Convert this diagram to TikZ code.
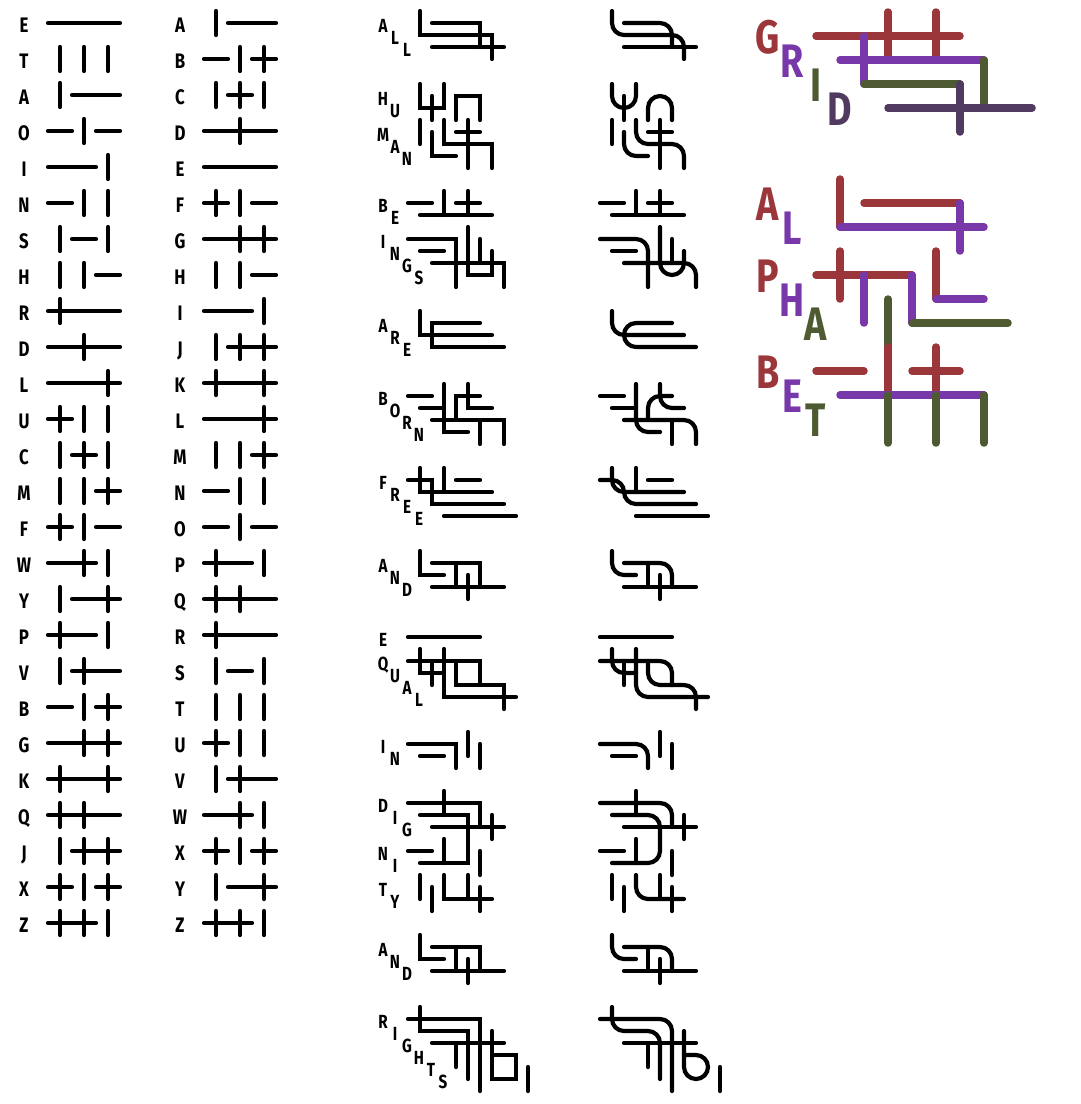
\documentclass[tikz,border=0pt]{standalone}
\usepackage{fontspec}
\newfontfamily\rotfont{Fira Sans}[FakeStretch=0.8]

\definecolor{vermelho}{RGB}{155,55,58}
\definecolor{roxo}{RGB}{120,56,170}
\definecolor{oliva}{RGB}{78,90,50}
\definecolor{ameixa}{RGB}{80,58,96}

\tikzset{
  traco/.style={line width=4.2pt, line cap=round},
  rotulo/.style={anchor=base, inner sep=0pt, font=\rotfont\bfseries\fontsize{21}{21}\selectfont},
  rotpal/.style={anchor=base, inner sep=0pt, font=\rotfont\bfseries\fontsize{19}{19}\selectfont},
  rotgrande/.style={anchor=base, inner sep=0pt, font=\rotfont\bfseries\fontsize{47}{47}\selectfont},
}

% Codigo de cada letra: h = traco, v = barra, x = cruz
\def\codA{vhh}\def\codB{hvx}\def\codC{vxv}\def\codD{hxh}\def\codE{hhh}
\def\codF{xvh}\def\codG{hxx}\def\codH{vvh}\def\codI{hhv}\def\codJ{vxx}
\def\codK{xhx}\def\codL{hhx}\def\codM{vvx}\def\codN{hvv}\def\codO{hvh}
\def\codP{xhv}\def\codQ{xxh}\def\codR{xhh}\def\codS{vhv}\def\codT{vvv}
\def\codU{xvv}\def\codV{vxh}\def\codW{hxv}\def\codX{xvx}\def\codY{vhx}
\def\codZ{xxv}

\newcommand\celula[4]{%
  \if#4v\draw[traco,corletra] ({#1+2*#3+1},{#2-1}) -- ++(0,2);\fi
  \if#4h\draw[traco,corletra] ({#1+2*#3},{#2}) -- ++(2,0);\fi
  \if#4x\draw[traco,corletra] ({#1+2*#3+1},{#2-1}) -- ++(0,2);
    \draw[traco,corletra] ({#1+2*#3},{#2}) -- ++(2,0);\fi}
\newcommand\glifoaux[5]{\celula{#4}{#5}{0}{#1}\celula{#4}{#5}{1}{#2}\celula{#4}{#5}{2}{#3}}
\newcommand\glifo[4][]{%
  \tikzset{corletra/.style={#1}}%
  \edef\tmpcode{\csname cod#4\endcsname}%
  \expandafter\glifoaux\tmpcode{#2}{#3}}

% Palavras (unidade = meia celula)
\newcommand\palALL{%
  \draw[traco] (1,-1) -- (1,1) -- (7,1) -- (7,3);
  \draw[traco] (2,0) -- (6,0) -- (6,2);
  \draw[traco] (2,2) -- (8,2);}
\newcommand\palHUMAN{%
  \draw[traco] (1,-1) -- (1,1) -- (3,1) -- (3,-1);
  \draw[traco] (2,0) -- (2,2);
  \draw[traco] (4,2) -- (4,0) -- (6,0) -- (6,2);
  \draw[traco] (1,2) -- (1,4);
  \draw[traco] (3,2) -- (3,4) -- (7,4) -- (7,6);
  \draw[traco] (2,3) -- (2,5) -- (4,5);
  \draw[traco] (4,3) -- (6,3);
  \draw[traco] (5,2) -- (5,6);}
\newcommand\palBEINGS{%
  \draw[traco] (0,0) -- (2,0);
  \draw[traco] (3,-1) -- (3,1);
  \draw[traco] (4,0) -- (6,0);
  \draw[traco] (5,-1) -- (5,1);
  \draw[traco] (1,1) -- (7,1);
  \draw[traco] (0,3) -- (4,3) -- (4,7);
  \draw[traco] (5,2) -- (5,6) -- (7,6) -- (7,4);
  \draw[traco] (1,4) -- (3,4);
  \draw[traco] (6,3) -- (6,5);
  \draw[traco] (2,5) -- (8,5) -- (8,7);}
\newcommand\palARE{%
  \draw[traco] (1,-1) -- (1,1) -- (7,1);
  \draw[traco] (6,0) -- (2,0) -- (2,2) -- (8,2);}
\newcommand\palBORN{%
  \draw[traco] (0,0) -- (2,0);
  \draw[traco] (3,-1) -- (3,3) -- (5,3);
  \draw[traco] (6,0) -- (4,0) -- (4,2);
  \draw[traco] (5,-1) -- (5,1) -- (7,1);
  \draw[traco] (1,1) -- (3,1);
  \draw[traco] (2,2) -- (8,2) -- (8,4);
  \draw[traco] (6,2) -- (6,4);}
\newcommand\palFREE{%
  \draw[traco] (1,-1) -- (1,1) -- (7,1);
  \draw[traco] (0,0) -- (2,0) -- (2,2) -- (8,2);
  \draw[traco] (3,-1) -- (3,1);
  \draw[traco] (4,0) -- (6,0);
  \draw[traco] (3,3) -- (9,3);}
\newcommand\palAND{%
  \draw[traco] (1,-1) -- (1,1) -- (3,1);
  \draw[traco] (2,0) -- (6,0) -- (6,2);
  \draw[traco] (4,0) -- (4,2);
  \draw[traco] (5,1) -- (5,3);
  \draw[traco] (2,2) -- (8,2);}
\newcommand\palEQUAL{%
  \draw[traco] (0,0) -- (6,0);
  \draw[traco] (0,2) -- (6,2) -- (6,4);
  \draw[traco] (1,1) -- (1,3) -- (3,3);
  \draw[traco] (3,1) -- (3,5) -- (9,5);
  \draw[traco] (2,2) -- (2,4);
  \draw[traco] (4,2) -- (4,4) -- (8,4) -- (8,6);}
\newcommand\palIN{%
  \draw[traco] (0,0) -- (4,0) -- (4,2);
  \draw[traco] (5,-1) -- (5,1);
  \draw[traco] (1,1) -- (3,1);
  \draw[traco] (6,0) -- (6,2);}
\newcommand\palDIGNITY{%
  \draw[traco] (0,0) -- (6,0) -- (6,2);
  \draw[traco] (3,-1) -- (3,1);
  \draw[traco] (1,1) -- (5,1) -- (5,5) -- (1,5);
  \draw[traco] (2,2) -- (8,2);
  \draw[traco] (7,1) -- (7,3);
  \draw[traco] (0,4) -- (2,4);
  \draw[traco] (3,3) -- (3,5);
  \draw[traco] (6,4) -- (6,6);
  \draw[traco] (1,6) -- (1,8);
  \draw[traco] (5,6) -- (5,8);
  \draw[traco] (3,6) -- (3,8) -- (7,8);
  \draw[traco] (2,7) -- (2,9);
  \draw[traco] (6,7) -- (6,9);}
\newcommand\palRIGHTS{%
  \draw[traco] (1,-1) -- (1,1) -- (5,1) -- (5,5);
  \draw[traco] (0,0) -- (6,0) -- (6,6);
  \draw[traco] (2,2) -- (8,2);
  \draw[traco] (7,1) -- (7,5) -- (9,5) -- (9,3) -- (7,3);
  \draw[traco] (4,2) -- (4,4);
  \draw[traco] (10,4) -- (10,6);}

% Desenha a palavra reta e a versao arredondada
\newcommand\palavra[2]{%
  \begin{scope}[shift={(408,#1)},x=12pt,y=-12pt] #2 \end{scope}
  \begin{scope}[shift={(600,#1)},x=12pt,y=-12pt,rounded corners=12pt] #2 \end{scope}}

\begin{document}
\begin{tikzpicture}[x=1pt,y=-1pt]
  \useasboundingbox (0,0) rectangle (1080,1104);

  % Alfabeto por frequencia
  \begin{scope}[shift={(48,23)},x=12pt,y=-12pt]
    \foreach \letra [count=\i from 0] in {E,T,A,O,I,N,S,H,R,D,L,U,C,M,F,W,Y,P,V,B,G,K,Q,J,X,Z}{
      \pgfmathtruncatemacro\lin{3*\i}
      \node[rotulo] (freq-\letra) at (-2,\lin+0.79) {\letra};
      \glifo{0}{\lin}{\letra}
    }
  \end{scope}

  % Alfabeto em ordem
  \begin{scope}[shift={(204,23)},x=12pt,y=-12pt]
    \foreach \letra [count=\i from 0] in {A,B,C,D,E,F,G,H,I,J,K,L,M,N,O,P,Q,R,S,T,U,V,W,X,Y,Z}{
      \pgfmathtruncatemacro\lin{3*\i}
      \node[rotulo] (alf-\letra) at (-2,\lin+0.79) {\letra};
      \glifo{0}{\lin}{\letra}
    }
  \end{scope}

  % Rotulos das palavras
  \foreach \l/\p/\r [count=\k] in {A/0/0,L/1/1,L/2/2}
    \node[rotpal] (all-\k) at ({383+12*\p},{23+12*\r+9}) {\l};
  \foreach \l/\p/\r [count=\k] in {H/0/0,U/1/1,M/0/3,A/1/4,N/2/5}
    \node[rotpal] (human-\k) at ({383+12*\p},{96+12*\r+9}) {\l};
  \foreach \l/\p/\r [count=\k] in {B/0/0,E/1/1,I/0/3,N/1/4,G/2/5,S/3/6}
    \node[rotpal] (beings-\k) at ({383+12*\p},{203+12*\r+9}) {\l};
  \foreach \l/\p/\r [count=\k] in {A/0/0,R/1/1,E/2/2}
    \node[rotpal] (are-\k) at ({383+12*\p},{323+12*\r+9}) {\l};
  \foreach \l/\p/\r [count=\k] in {B/0/0,O/1/1,R/2/2,N/3/3}
    \node[rotpal] (born-\k) at ({383+12*\p},{396+12*\r+9}) {\l};
  \foreach \l/\p/\r [count=\k] in {F/0/0,R/1/1,E/2/2,E/3/3}
    \node[rotpal] (free-\k) at ({383+12*\p},{480+12*\r+9}) {\l};
  \foreach \l/\p/\r [count=\k] in {A/0/0,N/1/1,D/2/2}
    \node[rotpal] (and-\k) at ({383+12*\p},{563+12*\r+9}) {\l};
  \foreach \l/\p/\r [count=\k] in {E/0/0,Q/0/2,U/1/3,A/2/4,L/3/5}
    \node[rotpal] (equal-\k) at ({383+12*\p},{637+12*\r+9}) {\l};
  \foreach \l/\p/\r [count=\k] in {I/0/0,N/1/1}
    \node[rotpal] (in-\k) at ({383+12*\p},{744+12*\r+9}) {\l};
  \foreach \l/\p/\r [count=\k] in {D/0/0,I/1/1,G/2/2,N/0/4,I/1/5,T/0/7,Y/1/8}
    \node[rotpal] (dignity-\k) at ({383+12*\p},{803+12*\r+9}) {\l};
  \foreach \l/\p/\r [count=\k] in {A/0/0,N/1/1,D/2/2}
    \node[rotpal] (andb-\k) at ({383+12*\p},{947+12*\r+9}) {\l};
  \foreach \l/\p/\r [count=\k] in {R/0/0,I/1/1,G/2/2,H/3/3,T/4/4,S/5/5}
    \node[rotpal] (rights-\k) at ({383+12*\p},{1019+12*\r+9}) {\l};

  % Palavras: reta e arredondada
  \palavra{23}{\palALL}
  \palavra{96}{\palHUMAN}
  \palavra{203}{\palBEINGS}
  \palavra{323}{\palARE}
  \palavra{396}{\palBORN}
  \palavra{480}{\palFREE}
  \palavra{563}{\palAND}
  \palavra{637}{\palEQUAL}
  \palavra{744}{\palIN}
  \palavra{803}{\palDIGNITY}
  \palavra{947}{\palAND}
  \palavra{1019}{\palRIGHTS}

  % GRID colorido
  \begin{scope}[shift={(816,36)},x=24pt,y=-24pt,traco/.style={line width=7.5pt,line cap=round}]
    \foreach \l/\p/\r/\c in {G/0/0/vermelho,R/1/1/roxo,I/2/2/oliva,D/3/3/ameixa}{
      \node[rotgrande,text=\c] (grid-\p) at (\p-2,\r+0.71) {\l};
      \glifo[draw=\c]{\p}{\r}{\l}
    }
  \end{scope}

  % ALPHABET colorido
  \begin{scope}[shift={(816,203)},x=24pt,y=-24pt,traco/.style={line width=7.5pt,line cap=round}]
    \foreach \l/\p/\r/\c [count=\k] in {A/0/0/vermelho,L/1/1/roxo,P/0/3/vermelho,H/1/4/roxo,
        A/2/5/oliva,B/0/7/vermelho,E/1/8/roxo,T/2/9/oliva}{
      \node[rotgrande,text=\c] (alfabeto-\k) at (\p-2,\r+0.71) {\l};
      \glifo[draw=\c]{\p}{\r}{\l}
    }
  \end{scope}
\end{tikzpicture}
\end{document}
